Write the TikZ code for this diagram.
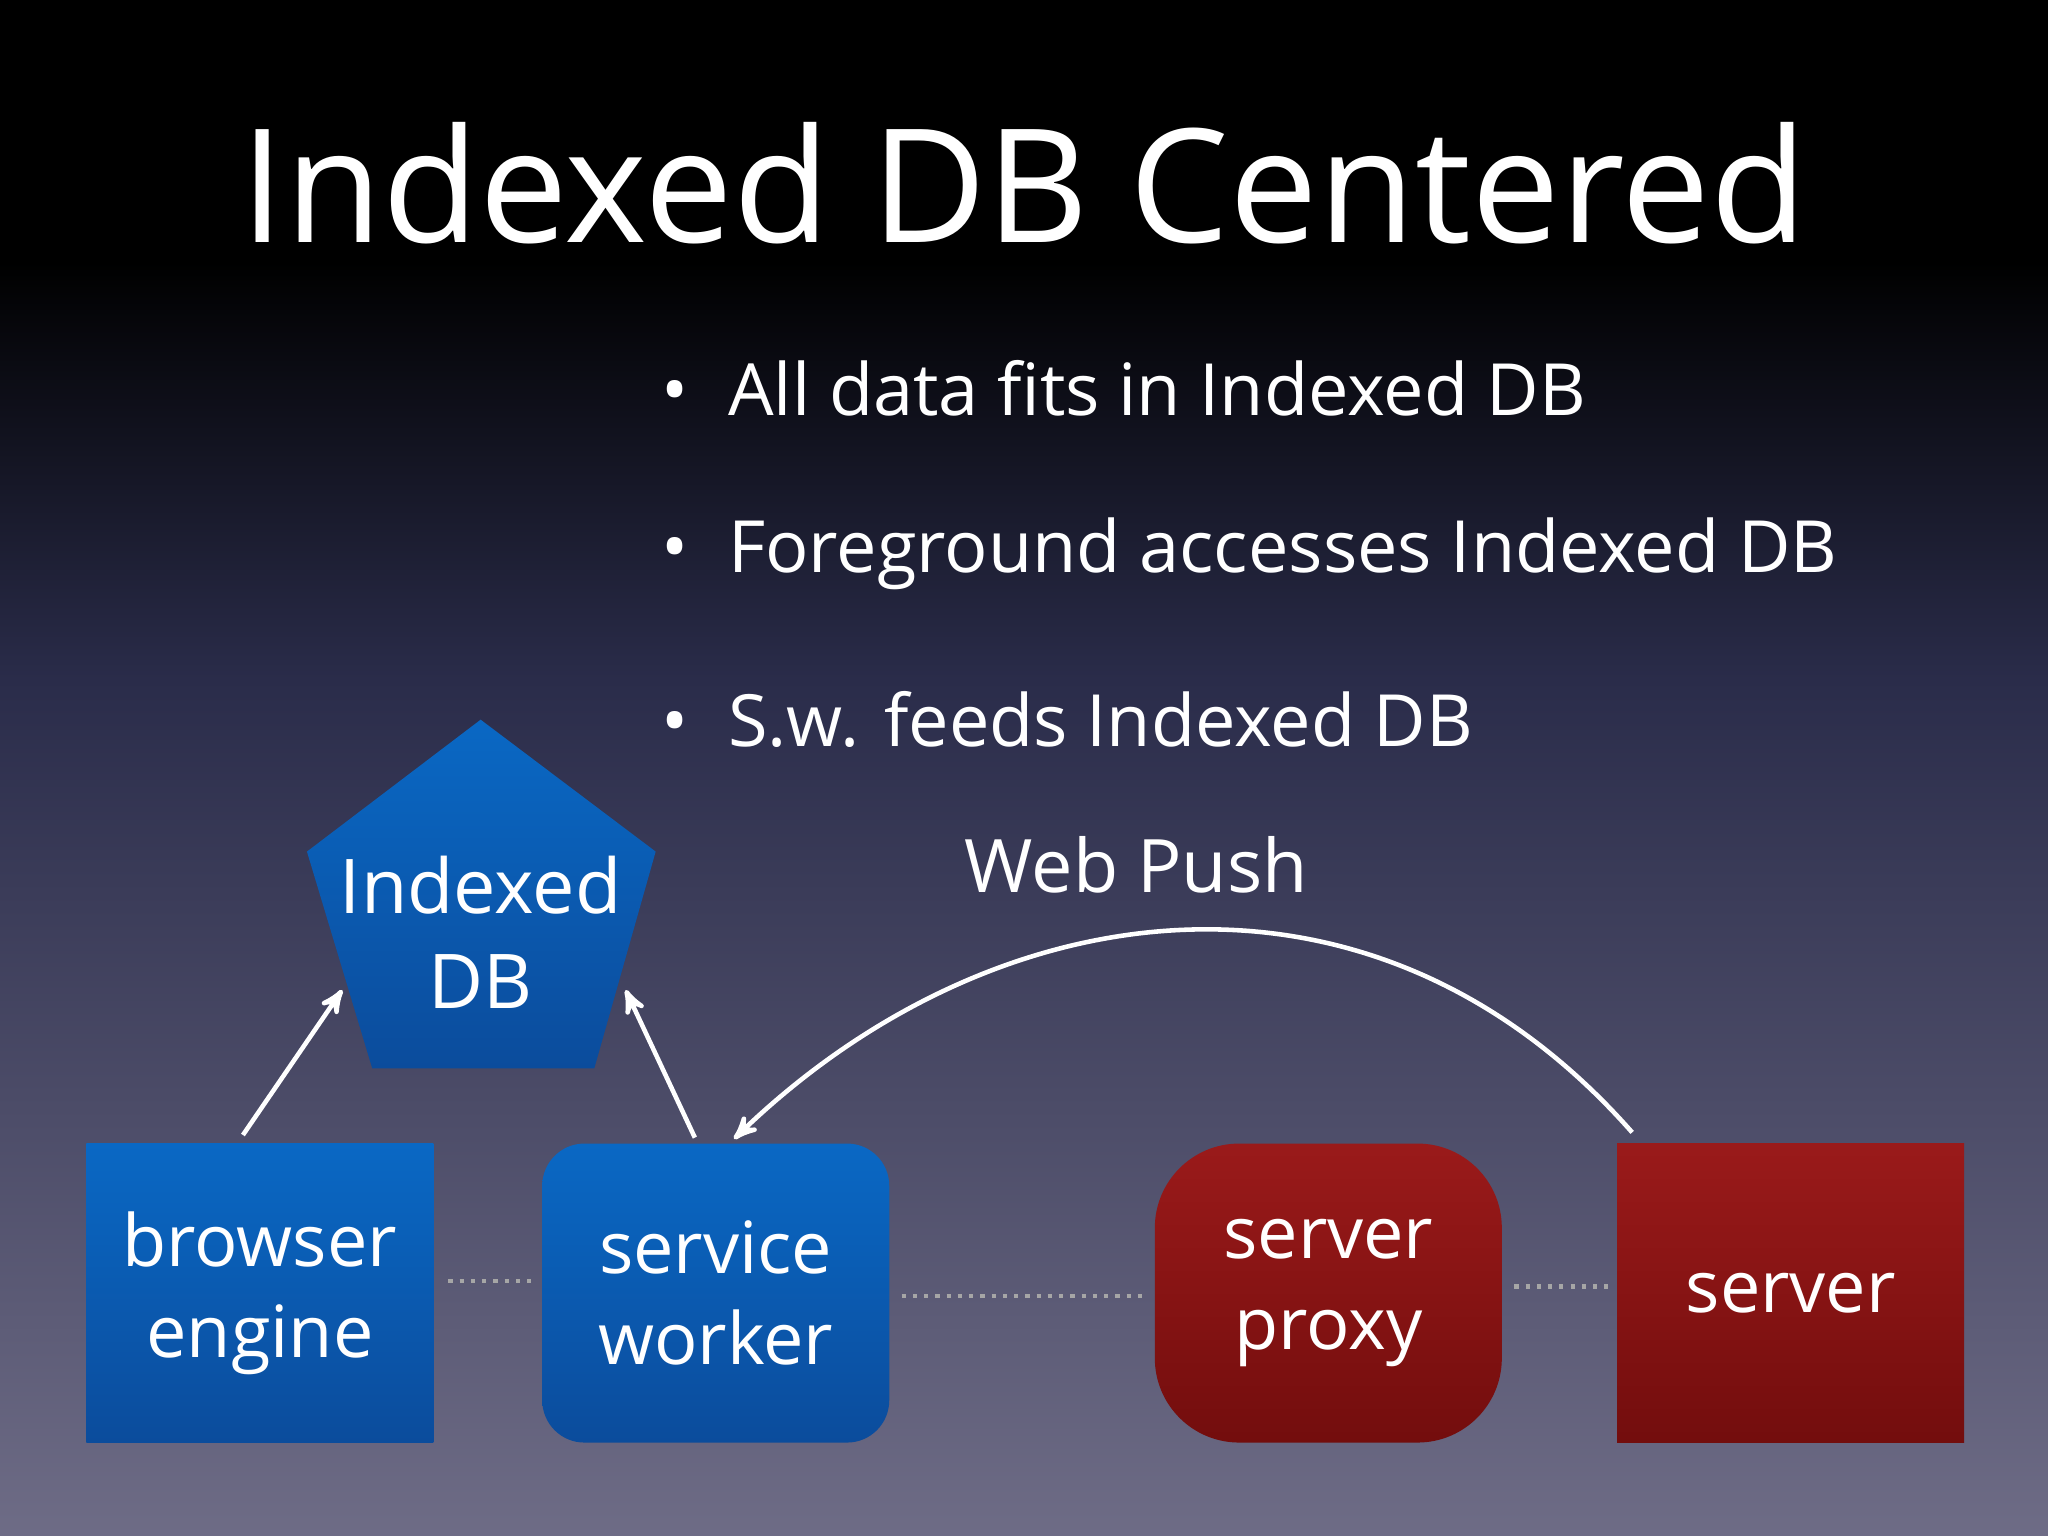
\documentclass[tikz,border=0pt]{standalone}
\usepackage{fontspec}
\setmainfont{Open Sans}
\usetikzlibrary{positioning}
\usetikzlibrary{calc}
\usetikzlibrary{arrows}
\definecolor{bluetop}{HTML}{0A68C4}
\definecolor{bluebot}{HTML}{0B4C9C}
\definecolor{redtop}{HTML}{9A1A1A}
\definecolor{redbot}{HTML}{730D0D}
\definecolor{bgbot}{HTML}{6E6C86}
\definecolor{bgmid}{HTML}{2A2C4A}
\tikzset{box/.style={minimum width=3.47cm, minimum height=2.99cm, inner sep=0pt, align=center, text=white, font=\fontsize{20.5}{26}\selectfont}}
\tikzset{bluebox/.style={box, top color=bluetop, bottom color=bluebot}}
\tikzset{redbox/.style={box, top color=redtop, bottom color=redbot}}
\tikzset{bullet/.style={anchor=west, text=white, font=\fontsize{20.5}{25}\selectfont}}
\tikzset{link/.style={draw=white, line width=1.3pt, ->, >=stealth'}}
\tikzset{dots/.style={draw=gray!70, line width=1.2pt, dotted}}

\begin{document}
\begin{tikzpicture}[x=0.013061cm, y=-0.013061cm]
        \fill[black] (0,0) rectangle (1568,200);
        \shade[top color=black, bottom color=bgmid] (0,200) rectangle (1568,520);
        \shade[top color=bgmid, bottom color=bgbot] (0,520) rectangle (1568,1176);
        \useasboundingbox (0,0) rectangle (1568,1176);
        \node[text=white, font=\fontsize{45}{54}\selectfont] (title) at (784,140) {Indexed DB Centered};
        \node[bullet] (b1) at (497,297) {•\hspace{0.55em}All data fits in Indexed DB};
        \node[bullet] (b2) at (497,424) {•\hspace{0.55em}Foreground accesses Indexed DB};
        \node[bullet] (b3) at (497,551) {•\hspace{0.55em}S.w. feeds Indexed DB};
        % pentagon
        \shade[top color=bluetop, bottom color=bluebot] (368,551) -- (502,652) -- (455,818) -- (285,818) -- (235,652) -- cycle;
        \node[text=white, align=center, font=\fontsize{21.5}{27}\selectfont] (db) at (368,714) {Indexed\\DB};
        \coordinate (dbl) at (262,758);
        \coordinate (dbr) at (479,758);
        % boxes
        \node[bluebox] (engine) at (199,990) {browser\\engine};
        \node[bluebox, rounded corners=12pt] (worker) at (548,990) {service\\worker};
        \node[redbox, rounded corners=24pt] (proxy) at (1017,990) {server\\proxy};
        \node[redbox] (server) at (1371,990) {server};
        \node[text=white, font=\fontsize{21}{26}\selectfont] (push) at (870,662) {Web Push};
        % arrows
        \draw[link] ($(engine.north)+(-13,-6)$) -- (dbl);
        \draw[link] ($(worker.north)+(-16,-4)$) -- (dbr);
        \draw[link] ($(server.north west)+(12,-8)$) .. controls (1050,640) and (760,680) .. ($(worker.north)+(14,-3)$);
        \draw[dots] ($(engine.east)+(11,-9)$) -- ($(worker.west)+(-5,-9)$);
        \draw[dots] ($(worker.east)+(9,2)$) -- ($(proxy.west)+(-9,2)$);
        \draw[dots] ($(proxy.east)+(9,-5)$) -- ($(server.west)+(-3,-5)$);
    \end{tikzpicture}
\end{document}
